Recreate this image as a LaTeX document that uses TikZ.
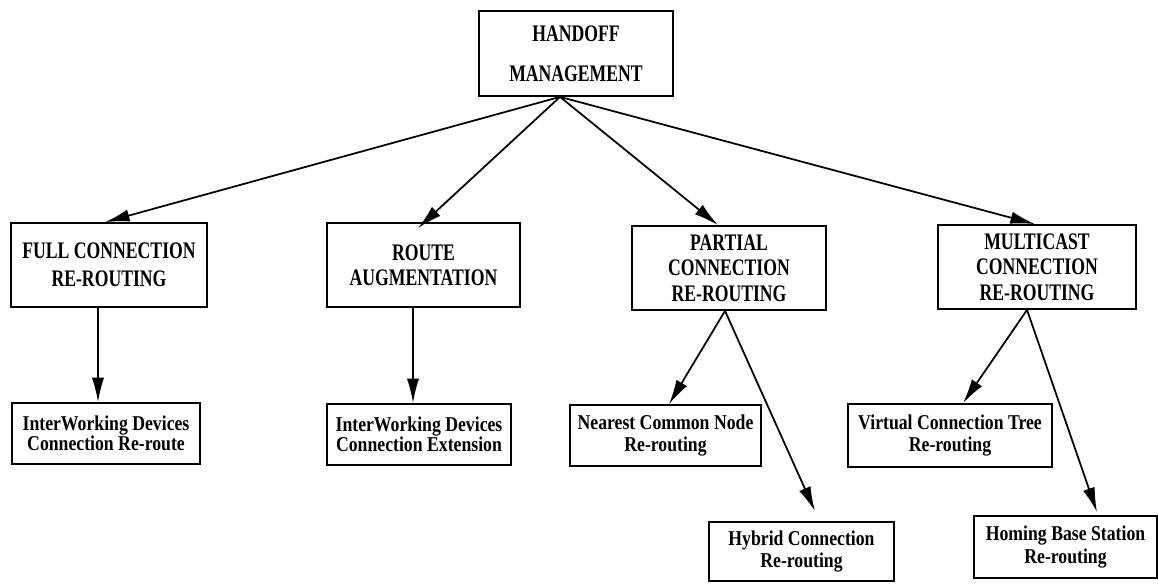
\documentclass[tikz,border=0pt]{standalone}
\usepackage{fontspec}
\setmainfont{Liberation Serif}
\newfontfamily\topfont{Liberation Serif}[FakeStretch=0.745]
\newfontfamily\leaffont{Liberation Serif}[FakeStretch=0.84]
\definecolor{BoxBorder}{RGB}{0,0,0}
\definecolor{ArrowColor}{RGB}{0,0,0}
\usetikzlibrary{
  positioning,
  arrows.meta,
  calc
}
\tikzset{
  % Upper level box (handoff schemes)
  topbox/.style={
    draw=BoxBorder,
    line width=1pt,
    minimum height=1.68cm,
    inner sep=2pt,
    align=center,
    font=\fontsize{13.5}{14.5}\topfont\bfseries
  },
  % Lower level box (re-routing methods)
  leafbox/.style={
    draw=BoxBorder,
    line width=1pt,
    minimum height=1.22cm,
    inner sep=2pt,
    align=center,
    font=\fontsize{12}{13}\leaffont\bfseries
  },
  % Directed connector
  arr/.style={
    draw=ArrowColor,
    line width=1pt,
    -{Latex[length=14pt,width=7pt]}
  }
}

\begin{document}
\begin{tikzpicture}[x=0.02cm, y=-0.02cm]
  \useasboundingbox (0,0) rectangle (1158,583);

  % root
  \node[topbox, minimum width=3.88cm, minimum height=1.70cm] (hm) at (576,53.5)
    {HANDOFF\\[8pt]MANAGEMENT};
  \coordinate (hmroot) at ([xshift=-0.32cm]hm.south);

  % handoff schemes
  \node[topbox, minimum width=3.92cm] (full)    at (109,265)   {FULL CONNECTION\\[1.5pt]RE-ROUTING};
  \node[topbox, minimum width=3.86cm] (route)   at (423.5,265) {ROUTE\\AUGMENTATION};
  \node[topbox, minimum width=3.88cm] (partial) at (729,268)   {PARTIAL\\CONNECTION\\RE-ROUTING};
  \node[topbox, minimum width=3.96cm] (multi)   at (1037,267)  {MULTICAST\\CONNECTION\\RE-ROUTING};

  % re-routing methods
  \node[leafbox, minimum width=3.76cm, font=\fontsize{12}{11.5}\leaffont\bfseries] (iwdr) at (106,433.5)
    {InterWorking Devices\\Connection Re-route};
  \node[leafbox, minimum width=3.68cm, font=\fontsize{12}{11.5}\leaffont\bfseries] (iwde) at (419,434.5)
    {InterWorking Devices\\Connection Extension};
  \node[leafbox, minimum width=3.82cm] (ncn) at (665.5,435.5) {Nearest Common Node\\Re-routing};
  \node[leafbox, minimum width=3.70cm, minimum height=1.18cm] (hyb) at (801.5,551.5) {Hybrid Connection\\Re-routing};
  \node[leafbox, minimum width=4.08cm, minimum height=1.26cm] (vct) at (950,435.5) {Virtual Connection Tree\\Re-routing};
  \node[leafbox, minimum width=3.66cm, minimum height=1.24cm] (hom) at (1065.5,547) {Homing Base Station\\Re-routing};

  % connectors
  \draw[arr] (hmroot) -- ([xshift=-0.08cm]full.north);
  \draw[arr] (hmroot) -- ([xshift=-0.11cm,yshift=-0.12cm]route.north);
  \draw[arr] (hmroot) -- ([xshift=-0.22cm]partial.north);
  \draw[arr] (hmroot) -- ([xshift=-0.04cm]multi.north);

  \draw[arr] ([xshift=-0.22cm]full.south) -- ([xshift=-0.16cm]iwdr.north);
  \draw[arr] ([xshift=-0.21cm]route.south) -- ([xshift=-0.12cm]iwde.north);
  \draw[arr] ([xshift=-0.08cm]partial.south) -- ([xshift=0.07cm]ncn.north);
  \draw[arr] ([xshift=-0.08cm]partial.south) -- ([xshift=0.27cm,yshift=0.2cm]hyb.north);
  \draw[arr] ([xshift=-0.20cm]multi.south) -- ([xshift=0.26cm]vct.north);
  \draw[arr] ([xshift=-0.20cm]multi.south) -- ([xshift=0.63cm,yshift=0.06cm]hom.north);
\end{tikzpicture}
\end{document}
